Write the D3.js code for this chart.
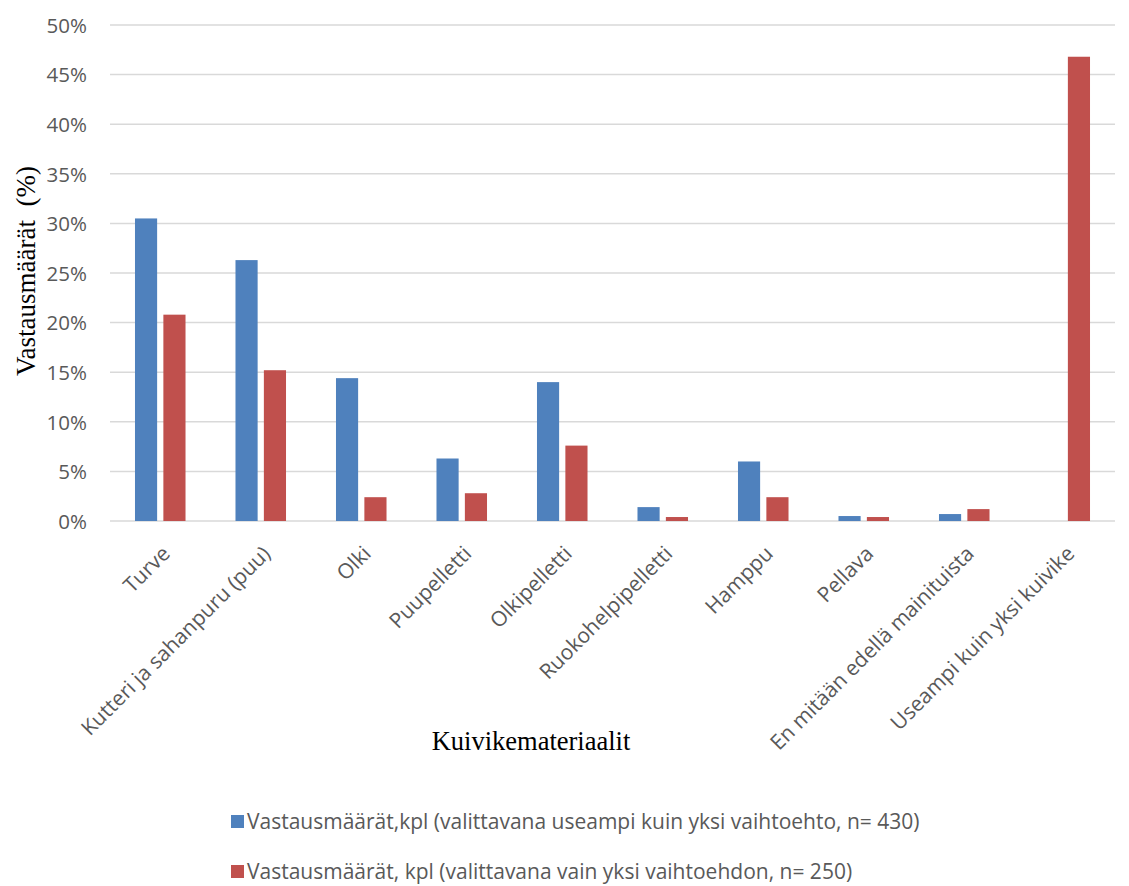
<!DOCTYPE html>
<html>
<head>
<meta charset="utf-8">
<script src="https://cdn.jsdelivr.net/npm/d3@7"></script>
<style>
  html, body { margin: 0; padding: 0; background: #ffffff; }
  svg { display: block; }
</style>
</head>
<body>
<svg id="chart" width="1129" height="886"></svg>
<script>
// Bedding materials (kuivikemateriaalit) and share of responses, %
const categories = [
  "Turve",
  "Kutteri ja sahanpuru (puu)",
  "Olki",
  "Puupelletti",
  "Olkipelletti",
  "Ruokohelpipelletti",
  "Hamppu",
  "Pellava",
  "En mitään edellä mainituista",
  "Useampi kuin yksi kuivike"
];
const seriesNames = [
  "Vastausmäärät,kpl (valittavana useampi kuin yksi vaihtoehto, n= 430)",
  "Vastausmäärät, kpl (valittavana vain yksi vaihtoehdon, n= 250)"
];
const multiChoice = [30.5, 26.3, 14.4, 6.3, 14.0, 1.4, 6.0, 0.5, 0.7, 0];
const singleChoice = [20.8, 15.2, 2.4, 2.8, 7.6, 0.4, 2.4, 0.4, 1.2, 46.8];
const yTicks = [0, 5, 10, 15, 20, 25, 30, 35, 40, 45, 50];
const colors = ["#4f81bd", "#c0504d"];

const svg = d3.select("#chart");
const margin = { left: 110, right: 14, top: 25, bottom: 365 };
const width = 1129, height = 886;
const x0 = margin.left, x1 = width - margin.right;
const yTop = margin.top, yBottom = height - margin.bottom;

const rows = categories.map((c, i) => ({ cat: c, vals: [multiChoice[i], singleChoice[i]] }));

const x = d3.scaleBand().domain(categories).range([x0, x1]).paddingInner(0).paddingOuter(0);
const xSub = d3.scaleBand().domain([0, 1]).range([0, x.bandwidth()]).paddingInner(0.22).paddingOuter(0.88);
const y = d3.scaleLinear().domain([0, 50]).range([yBottom, yTop]);

const tickFont = "'Open Sans', 'Noto Sans', sans-serif";
const serif = "'Liberation Serif', 'Times New Roman', serif";
const grey = "#595959";

// Horizontal gridlines
svg.append("g")
  .selectAll("line")
  .data(yTicks)
  .join("line")
  .attr("x1", x0).attr("x2", x1)
  .attr("y1", d => y(d)).attr("y2", d => y(d))
  .attr("stroke", "#d9d9d9")
  .attr("stroke-width", 1.5);

// Y axis labels
const yAxis = d3.axisLeft(y).tickValues(yTicks).tickFormat(d => d + "%").tickSize(0).tickPadding(0);
const yg = svg.append("g").attr("transform", `translate(${x0 - 23},0)`).call(yAxis);
yg.select(".domain").remove();
yg.selectAll("text")
  .attr("font-family", tickFont)
  .attr("font-size", 20.5)
  .attr("fill", grey)
  .attr("dy", "0.36em");

// Bars
const groups = svg.append("g")
  .selectAll("g")
  .data(rows)
  .join("g")
  .attr("transform", d => `translate(${x(d.cat)},0)`);

groups.selectAll("rect")
  .data(d => d.vals.map((v, k) => ({ v, k })))
  .join("rect")
  .attr("x", d => xSub(d.k))
  .attr("width", xSub.bandwidth())
  .attr("y", d => y(d.v))
  .attr("height", d => y(0) - y(d.v))
  .attr("fill", d => colors[d.k]);

// Category labels, rotated
const xAxis = d3.axisBottom(x).tickSize(0).tickPadding(0);
const xg = svg.append("g").attr("transform", `translate(0,${yBottom})`).call(xAxis);
xg.select(".domain").remove();
xg.selectAll("text")
  .attr("font-family", tickFont)
  .attr("font-size", 21)
  .attr("fill", grey)
  .attr("text-anchor", "end")
  .attr("dy", 0)
  .attr("y", 0)
  .attr("transform", "translate(11,34) rotate(-45)");

// Axis titles
svg.append("text")
  .attr("transform", `translate(35,${(yTop + yBottom) / 2 - 2}) rotate(-90)`)
  .attr("text-anchor", "middle")
  .attr("font-family", serif)
  .attr("font-size", 27)
  .attr("fill", "#000")
  .style("white-space", "pre")
  .text("Vastausmäärät  (%)");

svg.append("text")
  .attr("x", 531)
  .attr("y", 750)
  .attr("text-anchor", "middle")
  .attr("font-family", serif)
  .attr("font-size", 26.5)
  .attr("fill", "#000")
  .text("Kuivikemateriaalit");

// Legend
const legend = svg.append("g")
  .selectAll("g")
  .data(seriesNames)
  .join("g")
  .attr("transform", (d, i) => `translate(231,${815 + i * 50})`);
legend.append("rect")
  .attr("width", 13).attr("height", 13)
  .attr("fill", (d, i) => colors[i]);
legend.append("text")
  .attr("x", 16)
  .attr("y", 14)
  .attr("font-family", tickFont)
  .attr("font-size", 21)
  .attr("fill", grey)
  .text(d => d);
</script>
</body>
</html>
